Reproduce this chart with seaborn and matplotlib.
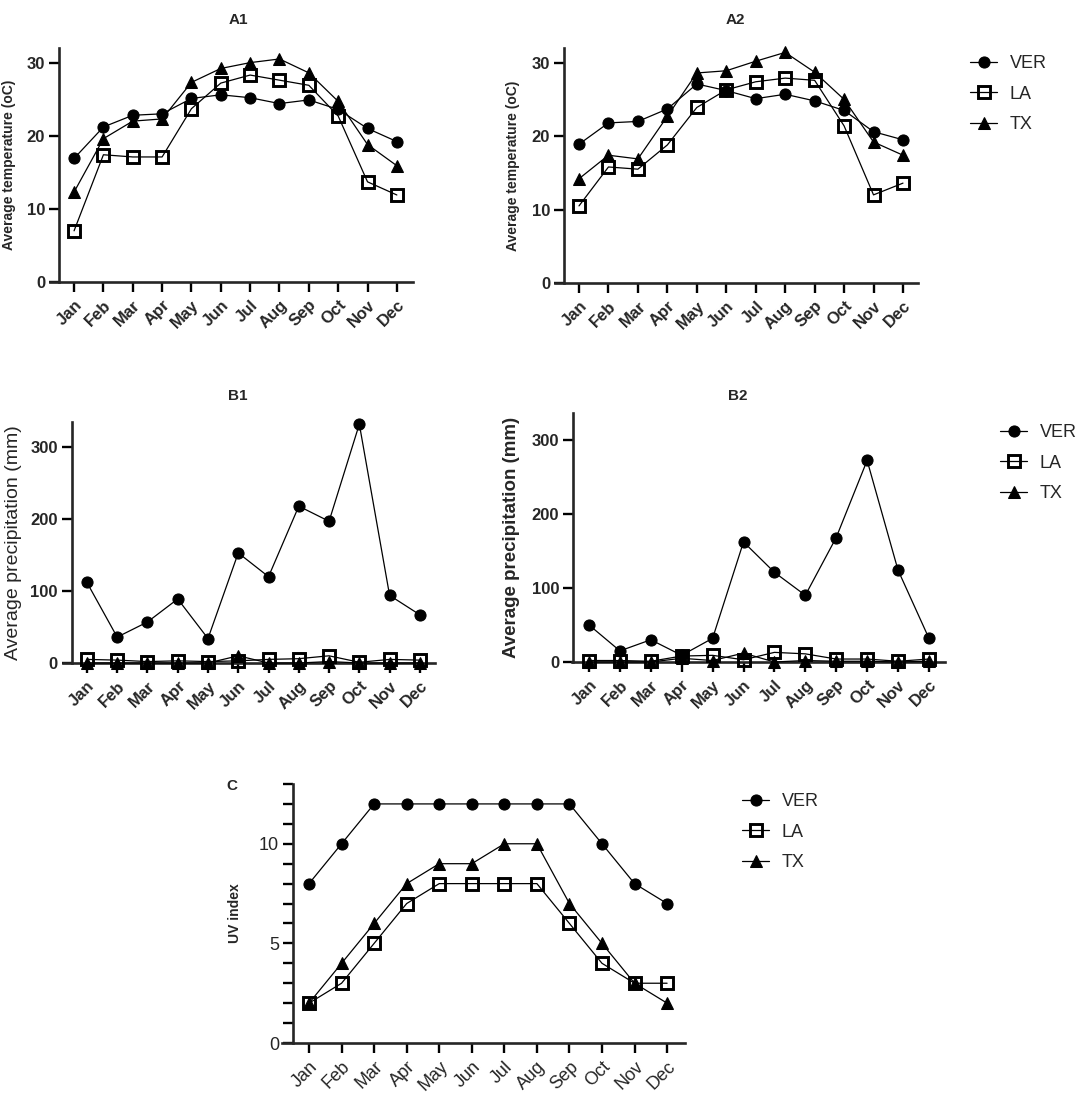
"""Monthly temperature, precipitation and UV index for VER, LA and TX (panels A1-C)."""
import numpy as np
import pandas as pd
import seaborn as sns
import matplotlib.pyplot as plt
from matplotlib.ticker import MultipleLocator

sns.set_style("ticks")
plt.rcParams["font.family"] = ["Liberation Sans", "DejaVu Sans"]

months = ["Jan", "Feb", "Mar", "Apr", "May", "Jun", "Jul", "Aug", "Sep", "Oct", "Nov", "Dec"]
sites = ["VER", "LA", "TX"]

# A1 / A2: average temperature (oC)
temp_a1_ver = [16.9, 21.2, 22.8, 23.0, 25.1, 25.6, 25.2, 24.4, 24.9, 23.6, 21.0, 19.2]
temp_a1_la = [7.0, 17.4, 17.1, 17.1, 23.7, 27.2, 28.3, 27.6, 26.9, 22.7, 13.7, 11.9]
temp_a1_tx = [12.3, 19.6, 22.0, 22.3, 27.3, 29.2, 30.0, 30.5, 28.6, 24.7, 18.8, 15.9]
temp_a2_ver = [18.9, 21.8, 22.0, 23.7, 27.1, 26.2, 25.1, 25.7, 24.8, 23.5, 20.6, 19.5]
temp_a2_la = [10.5, 15.8, 15.5, 18.8, 23.9, 26.3, 27.4, 27.9, 27.6, 21.4, 12.0, 13.6]
temp_a2_tx = [14.2, 17.4, 16.9, 22.7, 28.6, 28.9, 30.2, 31.4, 28.7, 25.0, 19.2, 17.4]

# B1 / B2: average precipitation (mm)
prec_b1_ver = [112, 36, 57, 89, 34, 153, 120, 218, 197, 332, 94, 67]
prec_b1_la = [5, 4, 2, 3, 2, 3, 5, 6, 10, 1, 5, 4]
prec_b1_tx = [0, 0, 0, 0, 0, 10, 0, 0, 2, 0, 0, 0]
prec_b2_ver = [50, 15, 30, 9, 32, 162, 121, 90, 168, 272, 124, 32]
prec_b2_la = [2, 2, 1, 8, 9, 3, 13, 11, 4, 4, 1, 4]
prec_b2_tx = [0, 0, 0, 5, 2, 12, 0, 2, 1, 1, 0, 1]

# C: UV index
uv_ver = [8, 10, 12, 12, 12, 12, 12, 12, 12, 10, 8, 7]
uv_la = [2, 3, 5, 7, 8, 8, 8, 8, 6, 4, 3, 3]
uv_tx = [2, 4, 6, 8, 9, 9, 10, 10, 7, 5, 3, 2]

W, H = 1084, 1101
fig = plt.figure(figsize=(W / 100, H / 100), dpi=100)

styles = {
    "VER": dict(marker="o", markersize=8, markerfacecolor="black", markeredgecolor="black"),
    "LA": dict(marker="s", markersize=8, markerfacecolor="none", markeredgecolor="black",
               markeredgewidth=2.1),
    "TX": dict(marker="^", markersize=8.5, markerfacecolor="black", markeredgecolor="black"),
}


def make_axes(l, r, t, b):
    return fig.add_axes([l / W, 1 - b / H, (r - l) / W, (b - t) / H])


def draw_panel(ax, series, xlim, spine_x, ylim, yticks, ylabel, label_x,
               label_size, label_weight, tick_size, tick_weight):
    df = pd.DataFrame({"month": pd.Categorical(np.tile(months, 3), categories=months, ordered=True),
                       "site": np.repeat(sites, 12),
                       "value": np.concatenate(series)})
    for site in sites:
        sub = df[df["site"] == site]
        sns.lineplot(data=sub, x="month", y="value", color="black", linewidth=0.9,
                     ax=ax, label=site, clip_on=False, zorder=3, **styles[site])
    # spine position first: moving a spine resets that axis' ticks
    sns.despine(ax=ax)
    ax.spines["left"].set_position(("data", spine_x))
    for s in ("left", "bottom"):
        ax.spines[s].set_linewidth(1.9)
    ax.set_xlim(*xlim)
    ax.set_ylim(*ylim)
    ax.set_yticks(yticks, labels=[str(v) for v in yticks],
                  fontsize=tick_size, fontweight=tick_weight)
    ax.set_xticks(range(12), labels=months, rotation=45, ha="right", rotation_mode="anchor",
                  fontsize=tick_size, fontweight=tick_weight)
    ax.set_xlabel("")
    ax.set_ylabel(ylabel, fontsize=label_size, fontweight=label_weight)
    ax.yaxis.set_label_coords(label_x, 0.5)
    ax.tick_params(axis="both", which="major", length=7, width=1.7, color="black", pad=3)
    ax.tick_params(axis="x", pad=4)
    ax.legend_.remove()
    ax.set_facecolor("white")


def add_legend(ax, x, y):
    handles, labels = ax.get_legend_handles_labels()
    fig.legend(handles, labels, loc="upper left", bbox_to_anchor=(x / W, 1 - y / H),
               frameon=False, fontsize=13, handlelength=1.5, handletextpad=0.7,
               labelspacing=0.75, borderpad=0, borderaxespad=0)


temp_label = "Average temperature (oC)"
prec_label = "Average precipitation (mm)"

ax_a1 = make_axes(50, 413, 48, 282)
draw_panel(ax_a1, [temp_a1_ver, temp_a1_la, temp_a1_tx], (-0.82, 11.55), -0.51, (0, 32),
           [0, 10, 20, 30], temp_label, -0.094, 10, "bold", 12, "bold")

ax_a2 = make_axes(555, 918, 48, 283)
draw_panel(ax_a2, [temp_a2_ver, temp_a2_la, temp_a2_tx], (-0.815, 11.51), -0.51, (0, 32),
           [0, 10, 20, 30], temp_label, -0.096, 10, "bold", 12, "bold")

ax_b1 = make_axes(63, 435, 422, 663)
draw_panel(ax_b1, [prec_b1_ver, prec_b1_la, prec_b1_tx], (-0.79, 11.5), -0.5, (0, 335),
           [0, 100, 200, 300], prec_label, -0.11, 14, "normal", 12, "bold")

ax_b2 = make_axes(572, 945, 413, 662)
draw_panel(ax_b2, [prec_b2_ver, prec_b2_la, prec_b2_tx], (-0.55, 11.52), -0.52, (0, 336),
           [0, 100, 200, 300], prec_label, -0.139, 13.5, "bold", 12, "bold")

ax_c = make_axes(282, 685, 784, 1043)
draw_panel(ax_c, [uv_ver, uv_la, uv_tx], (-0.83, 11.55), -0.49, (0, 13),
           [0, 5, 10], "UV index", -0.099, 10, "bold", 13, "normal")
ax_c.yaxis.set_minor_locator(MultipleLocator(1))
ax_c.tick_params(axis="y", which="minor", length=7, width=1.7, color="black")

add_legend(ax_a2, 970, 55)
add_legend(ax_b2, 1000, 424)
add_legend(ax_c, 742, 793)

for txt, x, y in [("A1", 238, 20), ("A2", 735, 20), ("B1", 238, 396), ("B2", 738, 396), ("C", 232, 786)]:
    fig.text(x / W, 1 - y / H, txt, ha="center", va="center", fontsize=11, fontweight="bold")

plt.savefig("out.png", dpi=100, facecolor="white")
